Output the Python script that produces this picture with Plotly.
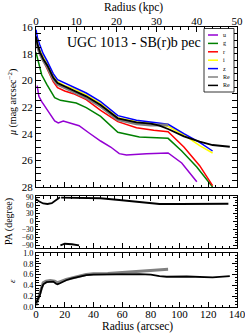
import plotly.graph_objects as go

# ---------------- data ----------------
u_r  = [0.8, 2, 4, 6, 9, 13, 15.5, 19, 22, 30, 37, 45, 52, 58, 63, 77, 92, 101.5, 112]
u_mu = [20.4, 21.2, 21.6, 21.9, 22.4, 23.05, 23.2, 23.05, 23.15, 23.4, 23.95, 24.55, 25.0, 25.5, 25.6, 25.5, 25.45, 26.2, 27.6]

g_r  = [0, 1, 2.5, 4, 7.5, 13, 17, 24, 28, 35, 45, 57, 72, 92, 101.5, 112, 123]
g_mu = [17.9, 18.3, 19.0, 19.6, 20.3, 21.3, 21.5, 21.6, 21.7, 22.05, 22.7, 23.9, 24.25, 24.35, 25.3, 26.5, 28.0]

band_r = [0, 1, 2.5, 5, 8, 12, 15, 20, 26, 35, 45, 57, 70, 82, 92, 103, 114, 123]
r_mu = [17.2, 17.5, 18.0, 18.5, 19.2, 20.1, 20.55, 20.8, 21.0, 21.45, 22.25, 23.1, 23.55, 23.75, 23.85, 25.0, 26.4, 27.9]
i_mu = [16.9, 17.3, 17.7, 18.2, 18.8, 19.65, 20.1, 20.4, 20.6, 21.1, 21.75, 22.8, 23.1, 23.3, 23.45, 24.1, 24.9, 25.45]
z_mu = [16.2, 16.8, 17.3, 18.0, 18.6, 19.5, 19.95, 20.2, 20.45, 20.95, 21.6, 22.65, 23.0, 23.15, 23.3, 24.0, 24.65, 25.3]

re_gray_r  = [0, 1, 2.8, 5, 8, 12, 15, 20, 26, 35, 45, 57, 70, 80, 86, 92]
re_gray_mu = [16.85, 17.45, 18.0, 18.5, 19.0, 19.9, 20.3, 20.55, 20.8, 21.3, 21.95, 22.95, 23.25, 23.35, 23.35, 23.35]

re_black_r  = [0, 1, 2.8, 5, 8, 12, 15, 20, 26, 35, 45, 57, 70, 80, 86, 92, 103, 114, 123, 135]
re_black_mu = [16.7, 17.3, 17.9, 18.4, 18.9, 19.8, 20.2, 20.45, 20.7, 21.2, 21.85, 22.85, 23.15, 23.25, 23.4, 23.65, 24.2, 24.6, 24.85, 24.98]

pa_r   = [0, 2, 5, 8, 11, 13, 15, 16.7, None, 17, 20, 25, 30, None,
          17.5, 30, 45, 58, 80, 86, 100, 134]
pa_deg = [84, 75, 67, 65, 68, 75, 84, 90, None, -90, -84, -86, -90, None,
          89, 88, 86.5, 80, 68, 65, 65, 66]

ell_r     = [0, 1, 2.8, 4, 5.1, 7.4, 10, 12, 14, 15, 16.7, 21.4, 25, 30.6, 35, 40, 56, 72, 80, 86, 91, 105, 123, 135]
ell_black = [0.07, 0.12, 0.23, 0.35, 0.42, 0.46, 0.47, 0.47, 0.43, 0.42, 0.44, 0.5, 0.53, 0.56, 0.59, 0.6, 0.61, 0.61, 0.6, 0.57, 0.56, 0.565, 0.55, 0.57]
ell_gray_r = [0, 1, 2.8, 4, 5, 7, 10, 13, 15, 17, 21, 30, 35, 40, 50, 60, 72, 82, 92]
ell_gray   = [0.03, 0.12, 0.3, 0.4, 0.45, 0.48, 0.49, 0.48, 0.45, 0.47, 0.51, 0.57, 0.6, 0.615, 0.62, 0.64, 0.66, 0.68, 0.7]

legend_names  = ["u", "g", "r", "i", "z", "Re", "Re"]
legend_colors = ["#9400D3", "#008000", "#ff0000", "#ffff00", "#0000ff", "#808080", "#000000"]

title_text = "UGC 1013 - SB(r)b pec"

# ---------------- figure ----------------
FONT = "Liberation Serif"
W, H = 245, 334
ML, MR, MT, MB = 36, 8, 27, 27
PW = W - ML - MR
PH = H - MT - MB

def px2x(px):
    return (px - ML) / PW

def py2y(py):
    return (H - MB - py) / PH

fig = go.Figure()

band_series = [
    (u_r, u_mu, legend_colors[0], 1.5),
    (g_r, g_mu, legend_colors[1], 1.5),
    (band_r, r_mu, legend_colors[2], 1.5),
    (band_r, i_mu, legend_colors[3], 1.5),
    (band_r, z_mu, legend_colors[4], 1.5),
    (re_gray_r, re_gray_mu, legend_colors[5], 3.0),
    (re_black_r, re_black_mu, legend_colors[6], 1.8),
]
for xr, yv, c, w in band_series:
    fig.add_trace(go.Scatter(x=xr, y=yv, mode="lines", line=dict(color=c, width=w),
                             xaxis="x3", yaxis="y3", showlegend=False))

fig.add_trace(go.Scatter(x=pa_r, y=pa_deg, mode="lines", line=dict(color="black", width=1.8),
                         xaxis="x2", yaxis="y2", showlegend=False, connectgaps=False))

fig.add_trace(go.Scatter(x=ell_gray_r, y=ell_gray, mode="lines", line=dict(color="#808080", width=3),
                         xaxis="x", yaxis="y", showlegend=False))
fig.add_trace(go.Scatter(x=ell_r, y=ell_black, mode="lines", line=dict(color="black", width=1.8),
                         xaxis="x", yaxis="y", showlegend=False))

# invisible trace on the kpc axis so it is drawn
fig.add_trace(go.Scatter(x=[0, 50], y=[16, 16], mode="lines", line=dict(width=0),
                         xaxis="x4", yaxis="y3", showlegend=False, hoverinfo="skip"))

def axis(size=10, **kw):
    d = dict(showline=True, linecolor="black", linewidth=1, ticks="inside", tickcolor="black",
             tickwidth=0.8, showgrid=False, zeroline=False, automargin=False,
             tickfont=dict(family=FONT, size=size, color="black"))
    d.update(kw)
    return d

d_e = [0, 54 / PH]
d_pa = [(H - MB - 248) / PH, (H - MB - 196) / PH]
d_top = [(H - MB - 187) / PH, 1]

fig.update_layout(
    width=W, height=H, margin=dict(l=ML, r=MR, t=MT, b=MB, autoexpand=False),
    plot_bgcolor="white", paper_bgcolor="white",
    font=dict(family=FONT, color="black"),
    xaxis=axis(11, domain=[0, 1], anchor="y", range=[0, 140], dtick=20, ticklen=5,
               mirror="allticks", ticklabelstandoff=-3, ticklabeloverflow="allow",
               minor=dict(ticks="inside", ticklen=2.5, dtick=5, tickcolor="black")),
    yaxis=axis(8.2, domain=d_e, anchor="x", range=[0, 1], dtick=0.2, tickformat=".1f",
               ticklen=5, mirror="allticks",
               minor=dict(ticks="inside", ticklen=2.5, dtick=0.05, tickcolor="black")),
    xaxis2=axis(10, domain=[0, 1], anchor="y2", range=[0, 140], dtick=20, ticklen=5,
                mirror="allticks", showticklabels=False,
                minor=dict(ticks="inside", ticklen=2.5, dtick=5, tickcolor="black")),
    yaxis2=axis(7.5, domain=d_pa, anchor="x2", range=[-100, 95], tickvals=[-90, -60, -30, 0, 30, 60, 90],
                ticklen=4, mirror="allticks",
                minor=dict(ticks="inside", ticklen=2, dtick=10, tickcolor="black")),
    xaxis3=axis(10, domain=[0, 1], anchor="y3", range=[0, 140], dtick=20, ticklen=5,
                mirror=True, showticklabels=False,
                minor=dict(ticks="inside", ticklen=2.5, dtick=5, tickcolor="black")),
    yaxis3=axis(11, domain=d_top, anchor="x3", range=[28, 16], dtick=2, ticklen=5,
                mirror="allticks",
                minor=dict(ticks="inside", ticklen=2.5, dtick=0.5, tickcolor="black")),
    xaxis4=axis(11, overlaying="x3", anchor="y3", side="top", range=[0, 50], dtick=10,
                ticklen=5, mirror=False, ticklabelstandoff=-3, ticklabeloverflow="allow",
                minor=dict(ticks="inside", ticklen=2.5, dtick=2, tickcolor="black")),
)

ann = []
def label(text, px, py, size, angle=0, **kw):
    ann.append(dict(text=text, x=px2x(px), y=py2y(py), xref="paper", yref="paper",
                    showarrow=False, textangle=angle, xanchor=kw.pop("xanchor", "center"),
                    yanchor="middle",
                    font=dict(family=FONT, size=size, color="black"), **kw))

label(title_text, 134, 43, 14)
label("Radius (kpc)", 133, 7, 11.5)
label("Radius (arcsec)", 137, 326, 11.5)
label("<i>μ</i> (mag arcsec<sup>−2</sup>)", 12, 103, 10, -90)
label("PA (degree)", 9, 222, 10, -90)
label("<i>ε</i>", 12, 281, 9, -90)

# manual legend
shapes = [dict(type="rect", xref="paper", yref="paper", x0=px2x(204), x1=px2x(234),
               y0=py2y(92), y1=py2y(28.5), line=dict(color="black", width=0.8), fillcolor="white",
               layer="above")]
for k, (nm, col) in enumerate(zip(legend_names, legend_colors)):
    yy = 35 + 8.4 * k
    shapes.append(dict(type="line", xref="paper", yref="paper", x0=px2x(208), x1=px2x(218),
                       y0=py2y(yy), y1=py2y(yy), line=dict(color=col, width=1.5), layer="above"))
    label(nm, 221, yy, 6, xanchor="left")

fig.update_layout(annotations=ann, shapes=shapes)
fig.write_html("out.html", config={"displayModeBar": False},
               post_script="document.body.style.margin='0';document.body.style.padding='0';"
                           "document.body.style.overflow='hidden';")
